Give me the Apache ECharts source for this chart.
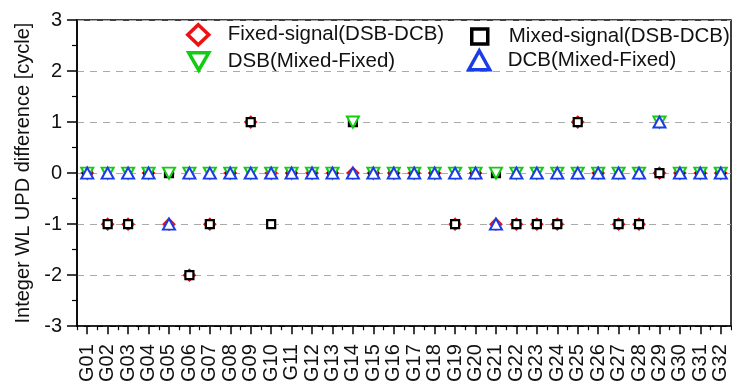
<!DOCTYPE html>
<html>
<head>
<meta charset="utf-8">
<script src="https://cdn.jsdelivr.net/npm/echarts@6/dist/echarts.min.js"></script>
<style>html,body{margin:0;padding:0;background:#fff}#c{width:732px;height:385px}</style>
</head>
<body>
<div id="c"></div>
<script>
var categories = ['G01','G02','G03','G04','G05','G06','G07','G08','G09','G10','G11','G12','G13','G14','G15','G16','G17','G18','G19','G20','G21','G22','G23','G24','G25','G26','G27','G28','G29','G30','G31','G32'];
var fixedSignal = [0,-1,-1,0,-1,-2,-1,0,1,0,0,0,0,0,0,0,0,0,-1,0,-1,-1,-1,-1,1,0,-1,-1,0,0,0,0];
var mixedSignal = [0,-1,-1,0,0,-2,-1,0,1,-1,0,0,0,1,0,0,0,0,-1,0,0,-1,-1,-1,1,0,-1,-1,0,0,0,0];
var dsbDiff = [0,0,0,0,0,0,0,0,0,0,0,0,0,1,0,0,0,0,0,0,0,0,0,0,0,0,0,0,1,0,0,0];
var dcbDiff = [0,0,0,0,-1,0,0,0,0,0,0,0,0,0,0,0,0,0,0,0,-1,0,0,0,0,0,0,0,1,0,0,0];
var yTicks = [-3,-2,-1,0,1,2,3];

var names = ['Fixed-signal(DSB-DCB)','Mixed-signal(DSB-DCB)','DSB(Mixed-Fixed)','DCB(Mixed-Fixed)'];
var RED='#ee1111', BLACK='#000000', GREEN='#11cc11', BLUE='#1a3ce6';
var downTri = 'path://M0,0 L10,0 L5,8.66 Z';
var FONT = 'Liberation Sans, Arial, sans-serif';

function pts(arr){ return arr.map(function(v,i){ return [categories[i], v]; }); }

function legendAt(name, left, top, w, h, padLeft){
  return {
    data:[{name:name}], left:left, top:top, itemWidth:w, itemHeight:h, orient:'horizontal',
    selectedMode:false, padding:0, symbolKeepAspect:true,
    itemStyle:{borderWidth:3.5},
    textStyle:{fontSize:20.5, color:'#111', fontFamily:FONT, padding:[0,0,0,padLeft]}
  };
}

var chart = echarts.init(document.getElementById('c'), null, {renderer:'canvas'});
chart.setOption({
  animation:false,
  backgroundColor:'#fff',
  textStyle:{fontFamily:FONT},
  grid:{left:77, right:1, top:20, bottom:57, show:true, borderColor:'#000', borderWidth:1.5, backgroundColor:'transparent'},
  legend:[
    legendAt(names[0], 186, 23, 21, 20, 14),
    legendAt(names[1], 470, 26, 16, 15, 16),
    legendAt(names[2], 187, 51, 20, 18, 14),
    legendAt(names[3], 467, 49, 21, 19, 13)
  ],
  xAxis:[{
    type:'category', data:categories, boundaryGap:true, position:'bottom',
    axisLine:{show:true, onZero:false, lineStyle:{color:'#000', width:1.5}},
    axisTick:{show:true, alignWithLabel:true, length:8, lineStyle:{color:'#000', width:1.5}},
    axisLabel:{rotate:90, fontSize:20, color:'#111', margin:18, interval:0, fontFamily:FONT},
    splitLine:{show:false}
  },{
    type:'category', data:categories, boundaryGap:true, position:'bottom',
    axisLine:{show:false, onZero:false},
    axisTick:{show:true, alignWithLabel:false, length:4, interval:0, lineStyle:{color:'#000', width:1.2}},
    axisLabel:{show:false},
    splitLine:{show:false}
  }],
  yAxis:{
    type:'value', min:yTicks[0], max:yTicks[yTicks.length-1], interval:1,
    name:'Integer WL UPD difference [cycle]', nameLocation:'middle', nameGap:44,
    nameTextStyle:{fontSize:20, color:'#111', fontFamily:FONT},
    axisLine:{show:true, lineStyle:{color:'#000', width:1.5}},
    axisTick:{show:true, length:10, lineStyle:{color:'#000', width:1.5}},
    minorTick:{show:true, splitNumber:2, length:5, lineStyle:{color:'#000', width:1.2}},
    axisLabel:{fontSize:20, color:'#111', margin:15, fontFamily:FONT},
    splitLine:{show:true, lineStyle:{color:'#aaa', type:[7,6], width:1}},
    minorSplitLine:{show:false}
  },
  series:[
    {name:names[0], type:'scatter', z:2, symbol:'diamond', symbolSize:[11,11], data:pts(fixedSignal),
     itemStyle:{color:'#fff', borderColor:RED, borderWidth:2, opacity:1}},
    {name:names[1], type:'scatter', z:3, symbol:'rect', symbolSize:[8,8], data:pts(mixedSignal),
     itemStyle:{color:'#fff', borderColor:BLACK, borderWidth:2.2, opacity:1}},
    {name:names[2], type:'scatter', z:4, symbol:downTri, symbolSize:[12,11], data:pts(dsbDiff),
     itemStyle:{color:'#fff', borderColor:GREEN, borderWidth:2, opacity:1}},
    {name:names[3], type:'scatter', z:5, symbol:'triangle', symbolSize:[12,11], data:pts(dcbDiff),
     itemStyle:{color:'#fff', borderColor:BLUE, borderWidth:2, opacity:1}}
  ]
});
</script>
</body>
</html>
